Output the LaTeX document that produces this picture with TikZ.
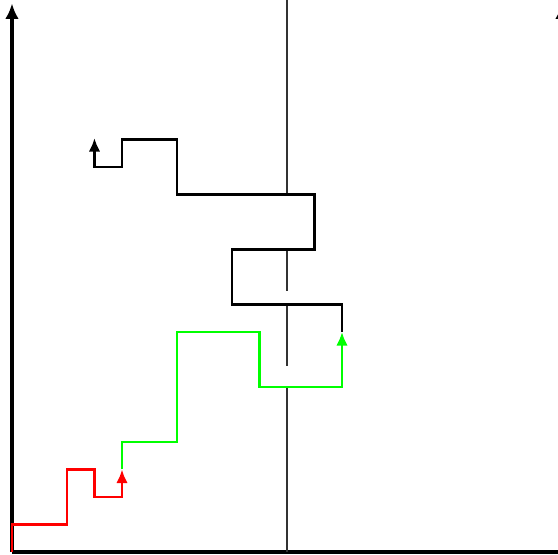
\documentclass[tikz,border=0pt]{standalone}
\usepackage{tikz}
\usetikzlibrary{arrows.meta}
\usepackage{xcolor}
\definecolor{walkred}{RGB}{255,0,0}
\definecolor{walkgreen}{RGB}{0,255,0}
\definecolor{mirrorgray}{RGB}{50,50,50}
\tikzstyle{axis} = [line width=1.6pt,-{Latex[length=8pt,width=7pt]},color=black]
\tikzstyle{walk} = [line width=1.3pt,-{Latex[length=7pt,width=6pt]}]
\tikzstyle{mirror} = [line width=1.2pt,color=mirrorgray]

\begin{document}
\begin{tikzpicture}[x=0.5cm,y=0.5cm]
\clip (-0.436,-0.109) rectangle (19.855,20.073);

% axes
\draw[line width=1.6pt] (0,0) -- (21,0);
\draw[axis] (0,0) -- (0,19.95);
\draw[axis] (20,19.4) -- (20,19.95);

% middle line, broken where the walk passes
\draw[mirror] (10,20.5) -- (10,13);
\draw[mirror] (10,11) -- (10,9.5);
\draw[mirror] (10,9) -- (10,6.75);
\draw[mirror] (10,6) -- (10,0);

% walk in three parts
\draw[walk, walkred] (0,0) -- (0,1) -- (2,1) -- (2,3) -- (3,3) -- (3,2) -- (4,2) -- (4,3);
\draw[walk, walkgreen] (4,3) -- (4,4) -- (6,4) -- (6,8) -- (9,8) -- (9,6) -- (12,6) -- (12,8);
\draw[walk, black] (12,8) -- (12,9) -- (8,9) -- (8,11) -- (11,11) -- (11,13) -- (6,13)
  -- (6,15) -- (4,15) -- (4,14) -- (3,14) -- (3,15.05);
\end{tikzpicture}
\end{document}
